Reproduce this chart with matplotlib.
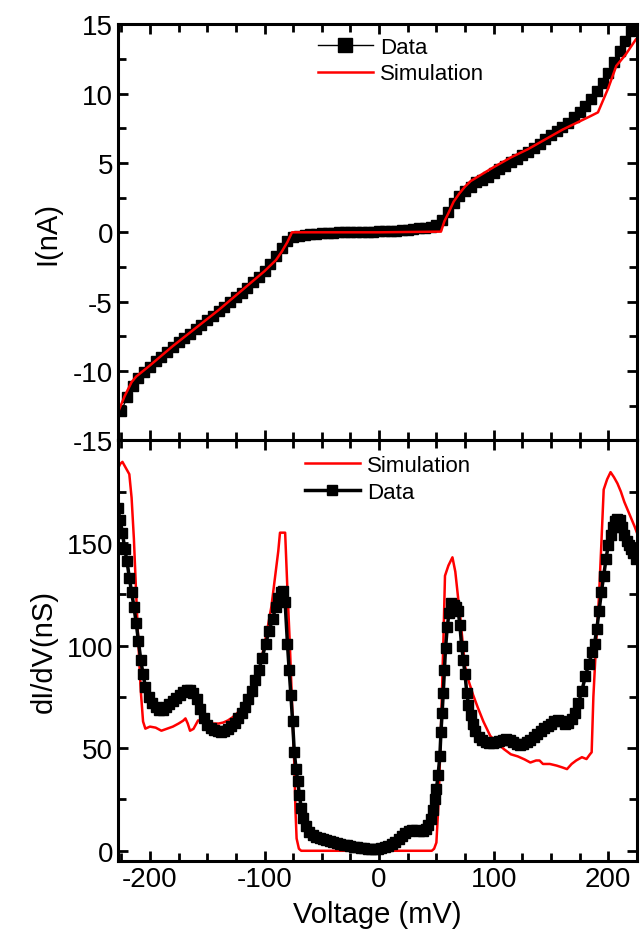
"""
I-V and dI/dV curves, measured data vs simulation (two stacked panels).
Output: out.png
"""

import matplotlib
matplotlib.use("Agg")
import matplotlib.pyplot as plt
import matplotlib.ticker as mticker

plt.rcParams["font.family"] = ["Liberation Sans", "DejaVu Sans"]
plt.rcParams["axes.unicode_minus"] = False

# --- top panel: current (nA) -------------------------------------------
V_I_DATA = [-225, -220, -215, -210, -205, -200, -195, -190, -185, -180,
            -175, -170, -165, -160, -155, -150, -145, -140, -135, -130,
            -125, -120, -115, -110, -105, -100, -95, -90, -85, -80,
            -75, -70, -65, -60, -55, -50, -45, -40, -35, -30,
            -25, -20, -15, -10, -5, 0, 5, 10, 15, 20,
            25, 30, 35, 40, 45, 50, 55, 60, 65, 70,
            75, 80, 85, 90, 95, 100, 105, 110, 115, 120,
            125, 130, 135, 140, 145, 150, 155, 160, 165, 170,
            175, 180, 185, 190, 195, 200, 205, 210, 215, 220, 225]
I_DATA = [-12.9, -11.9, -11.1, -10.5, -10.1, -9.7, -9.3, -9.0, -8.6, -8.3,
          -7.9, -7.6, -7.3, -7.0, -6.7, -6.3, -6.0, -5.7, -5.4, -5.0,
          -4.7, -4.4, -4.0, -3.6, -3.2, -2.8, -2.3, -1.7, -1.1, -0.6,
          -0.35, -0.25, -0.2, -0.15, -0.1, -0.08, -0.05, -0.03, -0.01, 0.0,
          0.01, 0.02, 0.03, 0.04, 0.05, 0.06, 0.07, 0.09, 0.11, 0.14,
          0.18, 0.23, 0.28, 0.33, 0.4, 0.5, 0.9, 1.5, 2.1, 2.6,
          3.0, 3.3, 3.6, 3.8, 4.0, 4.3, 4.6, 4.8, 5.1, 5.3,
          5.6, 5.8, 6.1, 6.4, 6.7, 7.0, 7.3, 7.6, 7.9, 8.3,
          8.7, 9.1, 9.6, 10.2, 10.8, 11.5, 12.3, 13.1, 13.8, 14.5, 15.1]

V_I_SIM = [-228, -222, -216, -212, -200, -180, -160, -140, -120, -100,
           -90, -85, -80, -76, 0, 54, 57, 60, 65, 70, 75, 80, 90, 100,
           115, 130, 145, 160, 175, 185, 191, 200, 207, 215, 224]
I_SIM = [-13.0, -11.8, -10.8, -10.4, -9.6, -8.2, -6.9, -5.6, -4.2, -2.8,
         -2.0, -1.4, -0.7, 0.0, 0.0, 0.05, 0.8, 1.3, 2.2, 2.8, 3.3, 3.7, 4.2, 4.7,
         5.4, 6.0, 6.7, 7.4, 8.0, 8.4, 8.65, 10.4, 12.0, 12.8, 13.9]

# --- bottom panel: conductance (nS) ------------------------------------
V_G_DATA = [-228, -226, -224, -222, -220, -218, -216, -214, -212, -210,
            -208, -206, -204, -201, -198, -195, -192, -189, -186, -183,
            -180, -177, -174, -171, -168, -165, -162, -159, -156, -153,
            -150, -147, -144, -141, -138, -135, -132, -129, -126, -123,
            -120, -117, -114, -111, -108, -105, -102, -99, -96, -93,
            -90, -88, -86, -84, -82, -80, -78.5, -77, -75.5, -74,
            -72.5, -71, -69.5, -68, -66, -64, -61, -58, -55, -52,
            -49, -46, -43, -40, -37, -34, -31, -28, -25, -22,
            -19, -16, -13, -10, -7, -4, -1, 2, 5, 8,
            11, 14, 17, 20, 23, 26, 29, 32, 35, 38,
            41, 43, 45, 47, 48.5, 50, 51.5, 53, 54, 55,
            56, 57, 58, 59.5, 61, 63, 65, 67, 69, 70.5,
            72, 73.5, 75, 76.5, 78, 80, 82, 84, 87, 90,
            93, 96, 99, 102, 105, 108, 111, 114, 117, 120,
            123, 126, 129, 132, 135, 138, 141, 144, 147, 150,
            153, 156, 159, 162, 165, 168, 171, 174, 177, 180,
            183, 186, 188, 190, 192, 194, 196, 198, 200, 202,
            204, 206, 208, 210, 212, 214, 216, 218, 220, 222, 224]
G_DATA = [167, 161, 155, 147, 141, 133, 126, 119, 111, 102,
          93, 86, 80, 75, 72, 70, 68.5, 68.5, 70, 71.5,
          73, 74.5, 76, 77.5, 78.5, 78.5, 77, 74, 69, 64.5,
          61.5, 60, 59, 58.5, 58, 58.5, 59.5, 61, 62.5, 64.5,
          67, 70, 74, 78, 83, 88, 94, 101, 107, 113,
          119, 123, 126, 126.5, 121, 101, 88, 76, 63, 48,
          40, 34, 27, 21, 16, 12, 9, 7.5, 6.8, 6.3,
          5.8, 5.3, 4.9, 4.4, 3.9, 3.4, 3.0, 2.6, 2.2, 1.9,
          1.6, 1.4, 1.2, 1.1, 1.0, 1.0, 1.1, 1.4, 1.9, 2.5,
          3.3, 4.3, 5.6, 7.0, 8.6, 9.8, 10.2, 10.0, 9.8, 9.8,
          10.5, 12.5, 15.5, 20, 25, 30, 37, 46, 58, 67,
          77, 88, 99, 109, 116, 120.5, 120, 119, 117, 110,
          100, 93, 86, 77, 71, 66, 62, 58.5, 55.5, 54,
          53, 52.5, 52.5, 53, 53.5, 54, 54.5, 54, 53, 52,
          51.5, 52, 53, 54, 55.5, 57, 58.5, 60, 61, 62,
          63, 63.5, 63, 62, 62.5, 64, 67, 72, 78, 85,
          91, 97, 101, 108, 117, 126, 134, 142, 149, 154,
          158, 160.5, 161.5, 161, 158, 154, 151, 149, 147, 145, 142]

V_G_SIM = [-228, -226, -224, -222, -220, -218, -216, -214, -212, -210,
           -208, -206, -204, -200, -195, -190, -185, -180, -175, -171,
           -169, -167, -165, -162, -158, -155, -150, -145, -140, -136,
           -132, -128, -124, -120, -116, -112, -108, -104, -101, -98,
           -94, -91, -88, -86.5, -82, -80, -78, -76, -74, -73,
           -72, -70, -68, 46, 48, 50, 52, 54, 56, 57.5,
           60.5, 64, 66.5, 69, 71, 73, 75, 78, 82, 86,
           91, 97, 103, 109, 115, 121, 127, 132, 137, 140,
           143, 149, 155, 160, 164, 168, 172, 177, 181, 184,
           185.5, 187, 189, 190, 192, 194, 196, 199, 202, 205,
           208, 211, 214, 217, 220, 223, 225]
G_SIM = [186, 188.5, 189.5, 187.5, 185.5, 183.5, 172, 152, 125, 100,
         78, 63, 59.5, 60.5, 60, 58.5, 59.5, 60.5, 62, 63.4,
         64.5, 62, 58.5, 59.4, 63.5, 63.5, 62.5, 62, 62, 62.5,
         63.5, 65, 67, 69.5, 72.5, 76.5, 82, 90, 98, 106.5,
         119, 132.5, 146, 155, 155, 127, 102, 72, 42, 20,
         6, 1, 0, 0, 1, 4, 25, 60, 100, 134,
         139, 143, 136, 123, 113, 101, 90, 83, 76, 70,
         63, 56, 52.5, 49.5, 47, 46, 44.5, 43, 44, 44,
         42.3, 42.3, 41.5, 40.6, 39.8, 42.3, 44, 45.6, 44.7, 47,
         48, 75, 97, 106, 125, 150, 176, 181, 184.5, 182,
         179, 175, 170, 166, 162, 158, 155]

RED = "#ff0000"


def style_axis(ax):
    for sp in ax.spines.values():
        sp.set_linewidth(2.2)
    ax.tick_params(which="both", direction="in", top=True, right=True,
                   width=2.0, labelsize=20)
    ax.tick_params(which="major", length=7.5)
    ax.tick_params(which="minor", length=6)
    ax.xaxis.set_major_locator(mticker.MultipleLocator(100))
    ax.xaxis.set_minor_locator(mticker.MultipleLocator(25))


def main():
    fig = plt.figure(figsize=(6.44, 9.37), dpi=100)
    ax1 = fig.add_axes([0.183, 0.529, 0.806, 0.444])
    ax2 = fig.add_axes([0.183, 0.080, 0.806, 0.449], sharex=ax1)

    # top: I-V
    ax1.plot(V_I_DATA, I_DATA, color="black", lw=1.0, marker="s",
             markersize=7.5, label="Data")
    ax1.plot(V_I_SIM, I_SIM, color=RED, lw=1.8, label="Simulation")
    ax1.set_xlim(-228, 225)
    ax1.set_ylim(-15, 15)
    ax1.yaxis.set_major_locator(mticker.MultipleLocator(5))
    ax1.yaxis.set_minor_locator(mticker.MultipleLocator(2.5))
    style_axis(ax1)
    ax1.tick_params(labelbottom=False)
    ax1.set_ylabel("I(nA)", fontsize=21, labelpad=8)
    ax1.legend(loc="upper left", bbox_to_anchor=(0.385, 0.97),
               frameon=False, fontsize=16, handlelength=2.5,
               handletextpad=0.3, labelspacing=0.25, markerscale=1.3,
               borderaxespad=0, borderpad=0)

    # bottom: dI/dV
    ax2.plot(V_G_SIM, G_SIM, color=RED, lw=1.8, label="Simulation")
    ax2.plot(V_G_DATA, G_DATA, color="black", lw=2.5, marker="s",
             markersize=7, label="Data")
    ax2.set_ylim(-5, 200)
    ax2.set_yticks([0, 50, 100, 150])
    ax2.yaxis.set_minor_locator(mticker.MultipleLocator(25))
    style_axis(ax2)
    ax2.set_xlabel("Voltage (mV)", fontsize=21, labelpad=6)
    ax2.set_ylabel("dI/dV(nS)", fontsize=21, labelpad=6)
    ax2.legend(loc="upper left", bbox_to_anchor=(0.36, 0.965),
               frameon=False, fontsize=16, handlelength=2.5,
               handletextpad=0.3, labelspacing=0.25,
               borderaxespad=0, borderpad=0)

    fig.savefig("out.png", dpi=100)
    plt.close(fig)


if __name__ == "__main__":
    main()
